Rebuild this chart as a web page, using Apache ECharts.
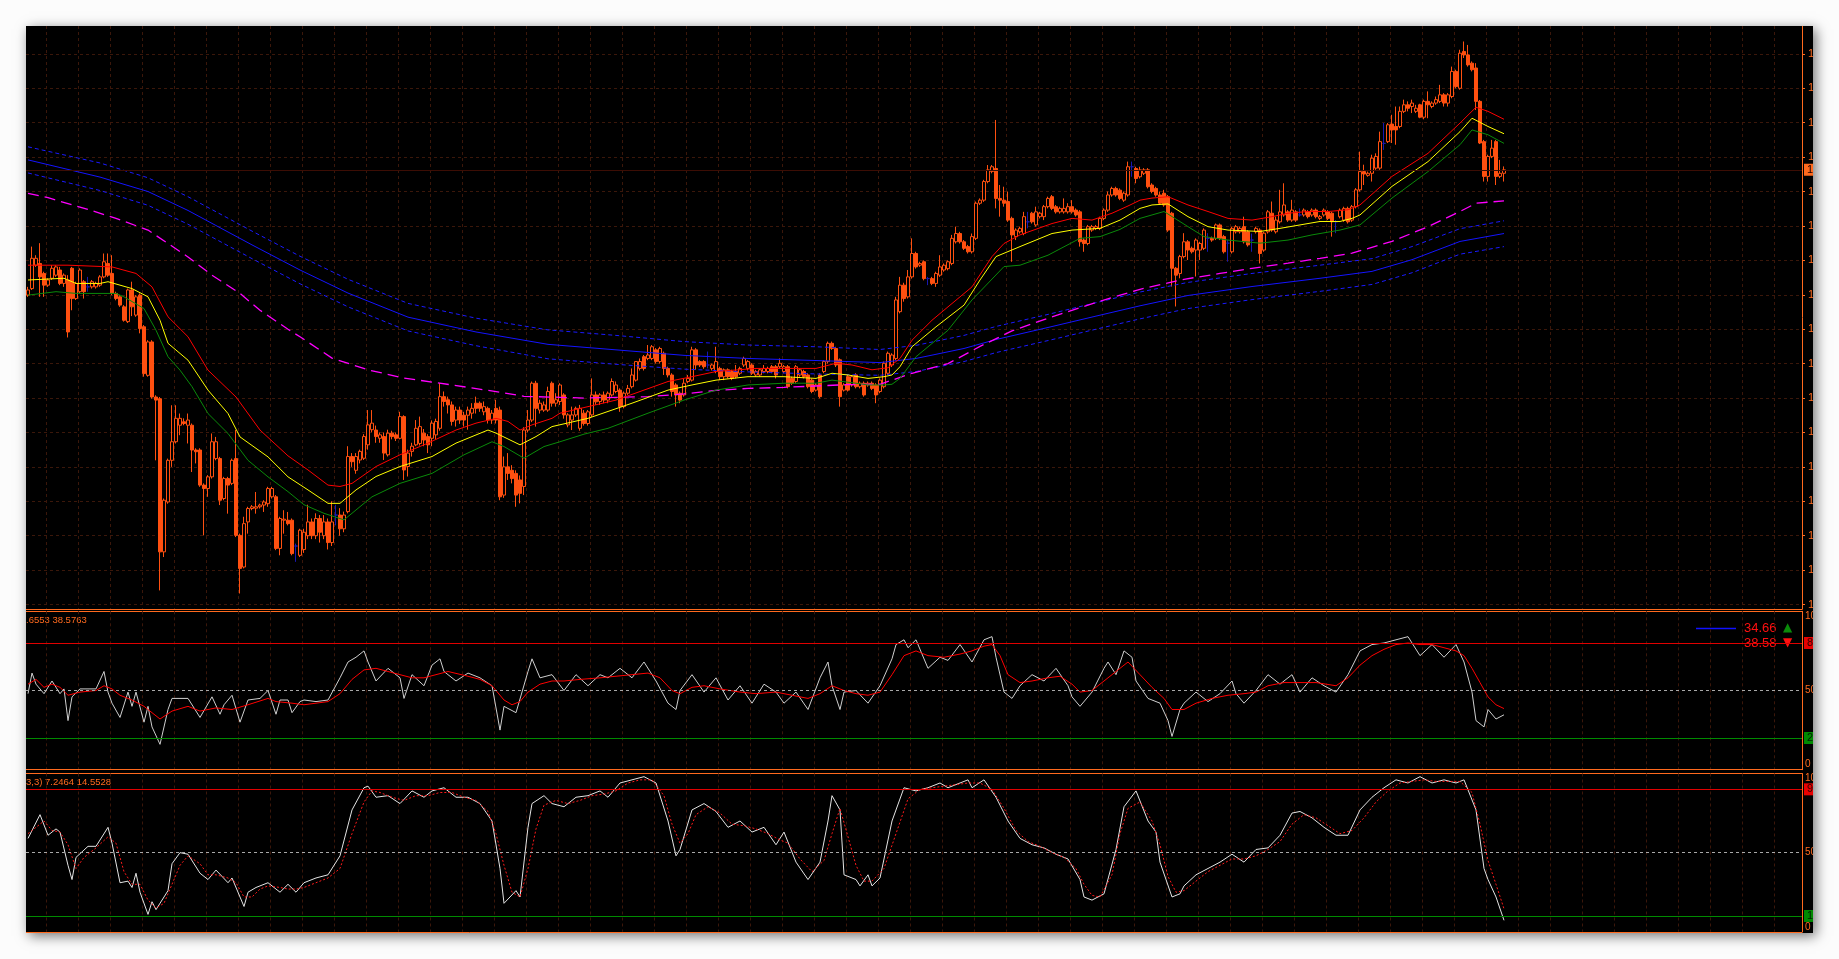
<!DOCTYPE html>
<html><head><meta charset="utf-8">
<script src="https://cdn.jsdelivr.net/npm/echarts@6/dist/echarts.min.js"></script>
<style>
html,body{margin:0;padding:0;background:#fcfcfc;width:1839px;height:959px;overflow:hidden}
#frame{position:absolute;left:26px;top:26px;width:1787px;height:907px;background:#000;box-shadow:3px 3px 12px rgba(0,0,0,0.55);overflow:hidden}
#chart{width:1787px;height:907px}
</style></head><body>
<div id="frame"><div id="chart"></div></div>
<script>
// ---------- DATA (prices in points: 13663 = 1.3663) ----------
const open = [13299,13318,13386,13391,13362,13328,13348,13357,13372,13333,
13343,13377,13289,13309,13338,13323,13323,13323,13328,13352,
13391,13362,13304,13294,13265,13222,13314,13241,13299,13207,
13066,13163,13003,12998,12553,12698,12819,12873,12921,12931,
12921,12921,12849,12849,12747,12737,12771,12824,12824,12708,
12766,12752,12824,12601,12509,12640,12679,12680,12684,12689,
12693,12713,12713,12563,12645,12645,12645,12570,12543,12560,
12600,12640,12600,12650,12600,12640,12580,12660,12660,12620,
12670,12830,12790,12820,12825,12864,12908,12907,12883,12888,
12835,12898,12893,12883,12946,12801,12845,12864,12868,12898,
12888,12883,12893,12912,13004,12995,12980,12936,12965,12950,
12950,12956,12985,12985,12960,12970,12936,12970,12965,12718,
12800,12790,12781,12762,12743,12907,12936,13043,12965,12965,
12965,13043,12985,12990,13009,12922,12936,12951,12912,12956,
12926,12951,13009,12990,13009,12994,13009,13019,13023,12975,
13014,13033,13052,13086,13120,13115,13115,13140,13106,13130,
13086,13067,13038,13014,13009,13048,13052,13140,13106,13106,
13096,13086,13077,13086,13062,13082,13077,13077,13072,13096,
13086,13096,13067,13067,13077,13077,13091,13091,13091,13077,
13091,13057,13048,13067,13077,13067,13052,13023,13067,13077,
13106,13159,13144,13111,13023,13062,13038,13067,13033,13043,
13038,13043,13038,13019,13033,13072,13096,13115,13251,13328,
13294,13352,13420,13386,13396,13347,13347,13333,13357,13372,
13376,13391,13454,13478,13454,13440,13425,13464,13566,13575,
13629,13658,13667,13580,13575,13571,13522,13469,13483,13478,
13512,13537,13503,13527,13527,13556,13585,13556,13541,13541,
13541,13556,13546,13541,13459,13449,13488,13493,13493,13522,
13546,13590,13609,13604,13575,13590,13672,13667,13643,13653,
13663,13619,13609,13590,13595,13585,13537,13377,13362,13411,
13454,13435,13430,13430,13435,13464,13464,13464,13503,13469,
13450,13425,13483,13483,13498,13483,13459,13483,13488,13430,
13483,13537,13483,13512,13532,13541,13517,13541,13532,13532,
13541,13532,13546,13522,13532,13541,13537,13512,13527,13517,
13551,13517,13556,13605,13658,13647,13653,13668,13668,13740,
13745,13796,13789,13789,13833,13852,13847,13833,13852,13816,
13862,13847,13857,13862,13881,13857,13876,13949,13900,14007,
13997,13973,13959,13862,13745,13644,13702,13745,13644,13653];
const close = [13314,13406,13406,13352,13328,13343,13377,13381,13333,13357,
13192,13289,13333,13372,13309,13323,13338,13333,13352,13396,
13357,13304,13289,13270,13226,13314,13265,13294,13202,13071,
13163,13003,12994,12553,12703,12819,12873,12941,12941,12926,
12936,12849,12844,12747,12737,12771,12873,12873,12703,12766,
12747,12819,12601,12505,12635,12679,12684,12684,12689,12698,
12737,12737,12563,12650,12648,12635,12548,12570,12616,12610,
12640,12600,12650,12610,12640,12580,12640,12660,12620,12660,
12830,12815,12830,12845,12888,12922,12927,12888,12893,12840,
12898,12888,12883,12946,12791,12840,12860,12912,12917,12878,
12864,12927,12932,13004,12990,12980,12932,12965,12936,12936,
12965,12970,12970,12970,12975,12936,12956,12936,12713,12800,
12781,12766,12718,12723,12907,12936,13043,12970,12985,12980,
13019,12985,12995,13038,12951,12951,12951,12970,12970,12926,
12960,13009,12989,13009,12994,13014,13048,13038,12975,13014,
13028,13067,13106,13106,13086,13125,13149,13106,13144,13086,
13067,13019,13009,12994,13043,13057,13140,13096,13096,13091,
13096,13096,13106,13062,13082,13062,13057,13062,13086,13115,
13106,13072,13077,13082,13086,13086,13077,13067,13101,13091,
13033,13043,13091,13082,13062,13033,13019,13038,13004,13106,
13159,13144,13096,13004,13038,13023,13062,13033,13043,13009,
13043,13028,13009,13052,13101,13130,13125,13285,13328,13289,
13352,13420,13381,13391,13347,13347,13333,13362,13381,13386,
13396,13464,13478,13454,13435,13425,13469,13566,13575,13629,
13663,13672,13580,13575,13566,13517,13474,13488,13493,13527,
13512,13512,13541,13537,13556,13580,13551,13541,13551,13551,
13556,13541,13532,13454,13449,13498,13498,13498,13522,13546,
13590,13609,13590,13580,13595,13672,13672,13638,13663,13663,
13614,13600,13590,13566,13561,13488,13377,13357,13411,13454,
13430,13425,13459,13449,13488,13464,13459,13503,13464,13425,
13450,13493,13498,13493,13454,13445,13459,13493,13420,13479,
13541,13488,13517,13541,13561,13517,13546,13517,13532,13546,
13527,13546,13527,13527,13546,13522,13512,13512,13546,13551,
13512,13556,13605,13658,13651,13653,13697,13702,13745,13740,
13794,13779,13779,13833,13852,13842,13857,13842,13816,13862,
13852,13857,13867,13881,13857,13881,13949,13905,14002,13997,
13968,13954,13862,13741,13644,13702,13726,13644,13653,13663];
const low = [13294,13314,13381,13294,13294,13323,13343,13352,13328,13323,
13176,13255,13285,13304,13289,13309,13318,13318,13323,13348,
13352,13299,13284,13265,13222,13218,13238,13236,13188,13062,
13062,12998,12819,12441,12538,12693,12800,12868,12892,12921,
12868,12785,12810,12742,12601,12713,12766,12819,12689,12703,
12664,12747,12596,12432,12505,12606,12674,12664,12679,12669,
12684,12708,12558,12543,12606,12630,12543,12524,12538,12550,
12590,12590,12590,12580,12590,12560,12570,12630,12600,12610,
12665,12800,12780,12810,12820,12850,12900,12870,12870,12820,
12830,12880,12875,12880,12762,12772,12830,12860,12862,12860,
12840,12860,12880,12905,12975,12955,12920,12917,12925,12917,
12908,12940,12955,12960,12950,12926,12925,12926,12703,12710,
12762,12752,12684,12694,12718,12900,12930,12917,12955,12960,
12960,12975,12975,12980,12940,12915,12907,12945,12905,12920,
12920,12945,12980,12980,12985,12985,13004,13014,12960,12970,
13009,13028,13048,13080,13080,13110,13110,13100,13100,13067,
13060,13004,12975,12985,13004,13043,13048,13082,13090,13085,
13086,13080,13072,13052,13052,13057,13052,13057,13067,13090,
13080,13067,13062,13062,13072,13072,13072,13057,13086,13072,
13028,13038,13043,13062,13057,13028,13014,13019,12999,13072,
13100,13140,13090,12975,13019,13019,13033,13028,13028,13004,
13033,13023,12985,13014,13028,13067,13090,13110,13246,13280,
13289,13347,13376,13381,13342,13328,13328,13323,13352,13367,
13371,13386,13449,13449,13430,13420,13420,13459,13561,13570,
13624,13653,13551,13527,13556,13512,13396,13459,13478,13473,
13493,13507,13498,13522,13517,13551,13546,13536,13536,13536,
13536,13536,13527,13440,13425,13444,13483,13488,13488,13517,
13541,13585,13585,13575,13570,13585,13643,13624,13638,13648,
13609,13595,13585,13561,13556,13483,13324,13266,13348,13406,
13401,13420,13353,13401,13430,13425,13454,13459,13459,13420,
13396,13420,13478,13478,13449,13440,13425,13478,13391,13425,
13478,13483,13478,13507,13527,13512,13512,13512,13527,13527,
13522,13527,13522,13517,13527,13517,13469,13479,13522,13512,
13507,13512,13551,13600,13619,13643,13629,13663,13663,13721,
13741,13741,13736,13784,13828,13833,13828,13828,13813,13810,
13813,13842,13852,13857,13847,13847,13871,13900,13896,13988,
13963,13949,13837,13738,13629,13629,13697,13619,13639,13629];
const high = [13323,13440,13415,13450,13367,13348,13386,13386,13381,13362,
13357,13381,13338,13377,13343,13352,13343,13338,13357,13420,
13420,13415,13309,13299,13270,13318,13338,13299,13304,13212,
13168,13168,13008,13003,12708,12824,12979,12979,12955,12941,
12955,12926,12854,12854,12752,12776,12897,12887,12829,12771,
12771,12824,12907,12606,12655,12684,12689,12727,12693,12703,
12742,12742,12718,12655,12674,12669,12650,12577,12620,12620,
12690,12650,12665,12660,12660,12650,12700,12690,12680,12670,
12860,12840,12840,12850,12895,12965,12965,12920,12900,12900,
12908,12905,12900,12960,12950,12850,12870,12936,12946,12910,
12895,12935,12940,13043,13019,13004,12990,12975,12975,12960,
12975,12985,13004,12990,12990,12975,12965,12995,12975,12830,
12840,12805,12790,12775,12915,12965,13048,13050,12995,12990,
13033,13048,13014,13043,13014,12956,12975,12975,12980,12965,
12965,13057,13019,13014,13019,13019,13057,13048,13028,13019,
13038,13086,13106,13115,13125,13154,13154,13145,13149,13135,
13091,13072,13043,13019,13057,13067,13149,13145,13110,13110,
13135,13100,13149,13091,13086,13086,13082,13096,13091,13120,
13110,13101,13082,13086,13096,13091,13096,13096,13115,13096,
13096,13062,13096,13086,13082,13072,13057,13043,13072,13110,
13164,13164,13149,13115,13043,13067,13067,13072,13048,13048,
13048,13048,13043,13057,13106,13135,13130,13294,13352,13335,
13372,13464,13425,13396,13400,13352,13352,13367,13415,13391,
13400,13474,13498,13483,13459,13445,13478,13571,13580,13634,
13677,13677,13808,13619,13614,13600,13527,13493,13498,13541,
13541,13541,13556,13541,13561,13585,13590,13561,13556,13580,
13566,13575,13551,13546,13464,13503,13503,13503,13527,13551,
13600,13614,13614,13609,13600,13687,13687,13672,13672,13668,
13668,13624,13614,13600,13605,13590,13541,13381,13416,13479,
13459,13440,13464,13454,13493,13479,13469,13507,13507,13474,
13459,13498,13503,13498,13527,13488,13478,13498,13493,13483,
13546,13571,13527,13605,13624,13546,13576,13546,13551,13551,
13546,13551,13551,13532,13551,13546,13541,13517,13551,13556,
13556,13561,13610,13716,13678,13658,13707,13711,13774,13799,
13799,13823,13847,13847,13867,13862,13867,13852,13855,13867,
13891,13862,13876,13910,13886,13886,13963,13954,14012,14036,
14026,13978,13973,13866,13750,13707,13750,13750,13692,13673];

// moving averages as [candle index, value]
const maHigh = [[0,13386],[10,13386],[21,13381],[27,13362],[31,13323],[35,13236],[40,13178],[45,13081],[52,13003],[58,12907],[65,12832],[70,12791],[75,12747],[78,12743],[81,12752],[87,12801],[93,12835],[100,12869],[107,12907],[112,12927],[117,12941],[120,12932],[123,12907],[126,12922],[131,12941],[133,12956],[140,12975],[147,12994],[160,13048],[166,13062],[172,13077],[182,13086],[190,13086],[197,13086],[202,13101],[206,13096],[211,13082],[215,13088],[218,13115],[221,13168],[226,13226],[230,13265],[236,13323],[241,13411],[244,13449],[248,13474],[256,13507],[261,13522],[266,13517],[271,13537],[275,13558],[278,13575],[281,13581],[285,13585],[290,13561],[295,13542],[300,13522],[306,13517],[311,13527],[315,13537],[320,13542],[325,13542],[330,13547],[333,13561],[341,13644],[350,13711],[358,13799],[362,13845],[365,13833],[369,13810]];
const maClose = [[0,13343],[9,13348],[12,13333],[18,13333],[20,13338],[23,13328],[26,13318],[30,13294],[33,13226],[35,13159],[40,13110],[45,13023],[50,12955],[53,12887],[60,12829],[65,12771],[70,12733],[75,12694],[78,12694],[82,12733],[87,12772],[93,12801],[101,12830],[107,12869],[115,12907],[117,12898],[123,12864],[127,12888],[131,12917],[140,12941],[151,12985],[160,13023],[166,13038],[172,13052],[180,13062],[189,13062],[197,13057],[201,13072],[205,13067],[210,13057],[214,13062],[216,13067],[218,13091],[221,13149],[227,13207],[234,13270],[238,13343],[242,13411],[248,13440],[256,13478],[261,13488],[268,13493],[273,13517],[278,13551],[281,13561],[285,13564],[290,13527],[295,13498],[300,13488],[308,13484],[313,13493],[318,13503],[323,13513],[328,13513],[331,13522],[333,13532],[341,13615],[350,13687],[358,13774],[361,13813],[365,13789],[369,13768]];
const maLow = [[0,13299],[7,13309],[12,13304],[22,13304],[24,13294],[29,13260],[32,13197],[35,13120],[38,13081],[41,13033],[45,12955],[50,12897],[55,12819],[60,12771],[65,12728],[69,12690],[74,12665],[79,12646],[86,12713],[93,12752],[101,12781],[109,12835],[116,12873],[119,12859],[124,12825],[129,12859],[133,12873],[139,12895],[145,12912],[155,12956],[164,12994],[172,13023],[180,13038],[189,13043],[197,13043],[201,13052],[207,13043],[210,13038],[214,13038],[216,13040],[218,13057],[222,13120],[230,13197],[236,13285],[244,13382],[248,13386],[255,13415],[263,13464],[268,13469],[273,13490],[278,13522],[281,13532],[284,13542],[290,13498],[294,13469],[300,13459],[308,13450],[315,13459],[321,13474],[328,13488],[333,13503],[341,13581],[350,13658],[358,13736],[361,13779],[365,13765],[369,13740]];
const maSlow = [[0,13595],[5,13582],[15,13548],[22,13522],[30,13488],[40,13410],[46,13357],[53,13304],[58,13255],[65,13200],[68,13178],[76,13116],[85,13082],[94,13058],[106,13038],[118,13017],[124,13005],[133,13002],[139,13000],[155,13004],[164,13012],[172,13022],[180,13028],[189,13031],[197,13035],[205,13039],[213,13040],[221,13072],[230,13100],[238,13150],[246,13195],[255,13232],[265,13270],[271,13292],[278,13316],[289,13345],[298,13362],[306,13377],[315,13392],[323,13406],[331,13421],[341,13455],[350,13498],[358,13542],[362,13566],[369,13573]];
const bandMid = [[0,13692],[18,13642],[30,13600],[40,13545],[48,13495],[56,13445],[68,13372],[80,13305],[95,13235],[112,13192],[130,13156],[147,13140],[164,13124],[180,13115],[197,13109],[213,13103],[222,13115],[234,13144],[242,13170],[255,13205],[267,13238],[278,13268],[290,13298],[306,13324],[323,13348],[336,13368],[346,13402],[358,13455],[369,13478]];
const bandUp = [[0,13730],[18,13683],[30,13640],[40,13585],[48,13535],[56,13485],[68,13412],[80,13345],[95,13275],[112,13232],[130,13198],[147,13182],[164,13164],[180,13154],[197,13149],[213,13141],[222,13153],[234,13182],[242,13208],[255,13243],[267,13277],[278,13308],[290,13336],[306,13362],[323,13386],[336,13405],[346,13440],[358,13492],[369,13515]];
const bandLow = [[0,13654],[18,13603],[30,13560],[40,13505],[48,13455],[56,13405],[68,13332],[80,13265],[95,13195],[112,13152],[130,13114],[147,13098],[164,13084],[180,13076],[197,13070],[213,13066],[222,13077],[234,13106],[242,13132],[255,13167],[267,13200],[278,13230],[290,13260],[306,13286],[323,13310],[336,13330],[346,13364],[358,13418],[369,13440]];

// RSI panel
const rsiMain = [[0,48],[1,61],[2,54],[4,48],[6,56],[8,48],[9,51],[10,31],[11,46],[13,51],[15,51],[17,51],[19,62],[20,49],[21,42],[23,33],[25,49],[26,40],[27,49],[29,30],[30,40],[31,27],[33,16],[35,38],[36,45],[40,45],[43,33],[46,46],[48,35],[49,41],[51,47],[53,30],[55,44],[58,45],[60,50],[62,35],[63,44],[65,44],[66,36],[68,43],[69,44],[72,43],[75,44],[78,58],[80,68],[82,71],[84,75],[85,68],[87,56],[90,64],[93,58],[94,45],[96,60],[99,53],[101,66],[103,70],[104,62],[107,56],[110,61],[113,58],[116,53],[118,25],[119,40],[122,36],[125,62],[126,70],[128,58],[131,60],[134,50],[137,60],[140,53],[143,60],[145,58],[148,64],[151,58],[154,68],[157,56],[160,42],[162,38],[163,50],[166,60],[169,49],[172,58],[175,44],[178,53],[181,42],[184,54],[187,49],[189,42],[192,49],[195,38],[198,58],[200,68],[201,53],[203,38],[204,49],[207,50],[210,42],[213,53],[216,70],[217,79],[219,82],[220,77],[222,82],[225,64],[228,71],[230,69],[233,79],[236,68],[239,82],[241,84],[242,71],[244,49],[246,45],[248,53],[251,60],[254,56],[257,64],[260,53],[261,46],[263,40],[266,49],[269,64],[270,68],[272,60],[274,75],[276,71],[277,56],[280,45],[283,42],[285,31],[286,21],[288,38],[289,42],[292,49],[295,43],[298,48],[301,56],[302,48],[304,42],[307,50],[310,60],[313,54],[316,60],[318,49],[321,58],[324,53],[327,49],[330,60],[333,75],[336,79],[339,80],[342,82],[345,84],[348,72],[351,79],[354,71],[357,79],[359,68],[361,49],[362,31],[364,27],[365,38],[367,32],[369,34.66]];
const rsiSignal = [[0,54],[2,57],[4,52],[6,54],[8,52],[10,47],[13,49],[17,50],[19,53],[21,51],[23,47],[26,44],[29,40],[31,36],[33,32],[36,37],[40,40],[43,37],[47,39],[51,38],[55,41],[60,45],[62,43],[66,42],[69,41],[72,42],[75,43],[78,48],[81,57],[84,63],[87,64],[90,62],[93,60],[96,58],[99,58],[102,60],[105,62],[110,59],[113,57],[116,53],[119,44],[121,41],[123,43],[125,49],[128,54],[131,56],[134,56],[138,57],[143,58],[147,59],[151,60],[155,61],[158,58],[161,50],[163,48],[166,52],[169,53],[173,51],[178,49],[182,48],[187,49],[191,47],[195,45],[198,48],[201,53],[204,50],[207,48],[210,47],[213,49],[216,60],[219,72],[222,75],[225,72],[229,71],[233,73],[236,75],[239,78],[241,79],[243,72],[245,60],[248,55],[251,56],[255,58],[258,59],[261,54],[263,49],[266,50],[269,56],[272,62],[275,68],[278,60],[281,52],[284,45],[286,38],[289,38],[292,42],[296,45],[300,47],[304,48],[307,49],[310,53],[314,55],[318,55],[322,55],[327,53],[330,58],[333,66],[336,72],[339,76],[342,79],[345,80],[348,79],[351,79],[354,77],[357,75],[359,72],[361,64],[363,55],[365,46],[367,41],[369,38.58]];
const rsiLevels = [80, 50, 20];
const rsiTitle = '.6553 38.5763';
const rsiLegend = ['34.66', '38.58'];

// Stochastic panel
const stochMain = [[0,59],[1,64],[3,74],[5,61],[7,65],[8,63],[10,42],[11,33],[12,47],[15,54],[17,54],[20,66],[21,56],[23,31],[25,32],[26,28],[27,37],[28,25],[30,11],[31,19],[32,14],[35,26],[36,43],[38,50],[40,49],[43,37],[45,33],[47,39],[50,31],[51,34],[54,16],[55,25],[57,28],[60,31],[63,25],[65,30],[67,25],[69,31],[72,34],[75,36],[78,48],[81,77],[84,91],[85,92],[87,85],[90,86],[93,81],[96,89],[99,85],[101,89],[104,91],[107,85],[110,85],[113,81],[116,70],[118,40],[119,18],[122,26],[123,22],[125,66],[126,81],[129,86],[131,81],[134,79],[137,85],[140,86],[143,89],[145,85],[148,94],[151,96],[154,98],[157,94],[160,70],[162,48],[163,52],[166,77],[169,81],[172,76],[175,66],[178,70],[181,63],[184,66],[187,55],[189,63],[192,44],[195,33],[198,44],[200,70],[201,86],[203,77],[204,36],[207,33],[208,29],[210,36],[211,29],[213,34],[216,70],[219,91],[222,89],[225,91],[228,94],[230,91],[233,94],[235,96],[236,91],[239,96],[242,85],[245,70],[248,59],[251,55],[254,53],[257,49],[260,46],[263,33],[264,22],[266,20],[269,24],[272,52],[274,79],[277,89],[280,70],[282,63],[283,44],[286,22],[288,24],[289,29],[292,36],[295,40],[298,44],[301,49],[304,44],[307,52],[310,53],[313,61],[316,75],[318,76],[321,72],[324,66],[327,61],[330,61],[333,77],[336,85],[339,91],[342,96],[345,94],[348,98],[351,94],[354,96],[357,94],[359,96],[362,77],[364,40],[365,33],[367,22],[369,7.25]];
const stochSignal = [[0,62],[2,66],[4,70],[6,64],[8,63],[10,55],[12,40],[14,47],[17,53],[20,60],[22,56],[24,38],[26,30],[28,30],[30,20],[32,15],[34,18],[36,30],[38,42],[40,48],[43,43],[45,36],[47,36],[50,34],[52,31],[54,22],[56,22],[58,27],[60,29],[63,28],[65,27],[67,27],[69,28],[72,31],[75,34],[78,40],[81,62],[84,82],[86,89],[88,88],[91,85],[94,83],[97,86],[100,86],[103,88],[106,88],[109,85],[112,83],[115,76],[117,62],[119,42],[121,25],[123,22],[125,40],[127,65],[129,80],[132,83],[135,81],[138,83],[141,86],[144,87],[147,89],[150,94],[153,96],[156,96],[159,86],[161,68],[163,56],[165,62],[167,74],[170,79],[173,75],[176,68],[179,67],[182,65],[185,62],[188,58],[190,56],[193,46],[196,38],[199,45],[201,62],[203,78],[205,60],[207,42],[209,32],[211,32],[214,40],[217,62],[220,84],[223,90],[226,91],[229,92],[232,93],[235,94],[238,94],[241,90],[244,78],[247,64],[250,57],[253,54],[256,50],[259,47],[262,40],[264,30],[266,23],[268,22],[271,36],[273,62],[275,78],[278,82],[281,70],[283,55],[285,35],[287,25],[289,26],[292,32],[295,38],[298,42],[301,46],[304,46],[307,48],[310,52],[313,57],[316,68],[319,74],[322,72],[325,67],[328,62],[331,64],[334,72],[337,82],[340,89],[343,94],[346,95],[349,96],[352,95],[355,95],[358,95],[361,88],[363,68],[365,45],[367,30],[369,14.55]];
const stochLevels = [90, 50, 10];
const stochTitle = '3,3) 7.2464 14.5528';

const slotCount = 444;           // bars that fit the window (right part empty)
const priceMin = 12387, priceMax = 14081;

// ---------- CHART ----------
const categories = Array.from({length: slotCount}, (_, i) => String(i));
const candles = open.map((o, i) => [o, close[i], low[i], high[i]]);
const lastClose = close[close.length - 1];

const ORANGE = '#ff6a1e', CANDLE = '#ff5010', GRIDC = '#3b170a', FONT = 'Liberation Sans';
const W = 1776;

function xa(gi) {
  return {type: 'category', gridIndex: gi, data: categories, boundaryGap: true,
    axisLine: {show: true, onZero: false, lineStyle: {color: ORANGE, width: 1}},
    axisTick: {show: false}, axisLabel: {show: false},
    splitLine: {show: true, interval: (idx) => idx % 8 === 5, lineStyle: {color: GRIDC, type: [3, 3], width: 1}}};
}
function ya(gi, extra) {
  return Object.assign({type: 'value', gridIndex: gi, position: 'right',
    axisLine: {show: true, lineStyle: {color: ORANGE}},
    axisTick: {show: false},
    axisLabel: {color: ORANGE, fontSize: 10, fontFamily: FONT, margin: 3},
    splitLine: {show: false}}, extra);
}
function line(data, xi, color, type, width, z) {
  return {type: 'line', data, xAxisIndex: xi, yAxisIndex: xi, showSymbol: false, symbol: 'none',
    silent: true, z: z || 3, lineStyle: {color, type: type || 'solid', width: width || 1}};
}
function levelMarks(levels) {
  const styles = [
    {lineStyle: {color: '#e00000', type: 'solid', width: 1}, label: {show: true, position: 'end', distance: 2, color: '#300000', backgroundColor: '#e80000', padding: [1, 3, 0, 3], fontSize: 11, fontFamily: FONT, formatter: String(levels[0])}},
    {lineStyle: {color: '#a8a8a8', type: [3, 3], width: 1}, label: {show: false}},
    {lineStyle: {color: '#008a00', type: 'solid', width: 1}, label: {show: true, position: 'end', distance: 2, color: '#002000', backgroundColor: '#008a00', padding: [1, 3, 0, 3], fontSize: 11, fontFamily: FONT, formatter: String(levels[2])}}
  ];
  return {silent: true, symbol: 'none', animation: false,
    data: levels.map((v, k) => Object.assign({yAxis: v}, styles[k]))};
}
function gridBox(top, height) {
  return {left: 0, top, width: W, height, containLabel: false, outerBoundsMode: 'none'};
}
const indicatorLabel = {color: ORANGE, fontSize: 10, fontFamily: FONT, margin: 3,
  verticalAlignMaxLabel: 'top', verticalAlignMinLabel: 'bottom'};

const chart = echarts.init(document.getElementById('chart'), null, {renderer: 'canvas'});
chart.setOption({
  backgroundColor: '#000',
  animation: false,
  grid: [gridBox(0, 583), gridBox(585.3, 158.4), gridBox(747.5, 158.3)],
  xAxis: [xa(0), xa(1), xa(2)],
  yAxis: [
    ya(0, {min: priceMin, max: priceMax, splitNumber: 17,
      axisTick: {show: true, length: 3, lineStyle: {color: ORANGE}},
      axisLabel: {color: ORANGE, fontSize: 11, fontFamily: FONT, margin: 6, showMinLabel: false, showMaxLabel: false,
        formatter: v => (v / 10000).toFixed(4)},
      splitLine: {show: true, showMinLine: false, showMaxLine: false, lineStyle: {color: GRIDC, type: [3, 3], width: 1}}}),
    ya(1, {min: 0, max: 100, interval: 50, axisLabel: indicatorLabel}),
    ya(2, {min: 0, max: 100, interval: 50, axisLabel: indicatorLabel})
  ],
  series: [
    {type: 'candlestick', xAxisIndex: 0, yAxisIndex: 0, data: candles, barWidth: 3, z: 2, silent: true,
      itemStyle: {color: '#000', color0: CANDLE, borderColor: CANDLE, borderColor0: CANDLE, borderColorDoji: '#1818b0', borderWidth: 1},
      markLine: {silent: true, symbol: 'none', animation: false,
        data: [{yAxis: lastClose}],
        lineStyle: {color: '#3c0d04', type: 'solid', width: 1},
        label: {show: true, position: 'end', distance: 2, color: '#200000', backgroundColor: ORANGE,
          padding: [1, 3, 0, 3], fontSize: 11, fontFamily: FONT, formatter: p => (p.value / 10000).toFixed(4)}}},
    line(bandUp, 0, '#1a1aff', [4, 3], 1),
    line(bandMid, 0, '#1414ff', 'solid', 1),
    line(bandLow, 0, '#1a1aff', [4, 3], 1),
    line(maSlow, 0, '#ff00ff', [11, 6], 1.3),
    line(maLow, 0, '#0a8a0a', 'solid', 1),
    line(maClose, 0, '#ffff00', 'solid', 1),
    line(maHigh, 0, '#ff0000', 'solid', 1),
    Object.assign(line(rsiMain, 1, '#cfcfcf', 'solid', 1), {markLine: levelMarks(rsiLevels)}),
    line(rsiSignal, 1, '#ff0000', 'solid', 1),
    Object.assign(line(stochMain, 2, '#e4e4e4', 'solid', 1), {markLine: levelMarks(stochLevels)}),
    line(stochSignal, 2, '#ff1a1a', [2, 2], 1)
  ],
  graphic: [
    {type: 'line', silent: true, shape: {x1: 0, y1: 585.5, x2: W, y2: 585.5}, style: {stroke: ORANGE, lineWidth: 1}},
    {type: 'line', silent: true, shape: {x1: 0, y1: 747.5, x2: W, y2: 747.5}, style: {stroke: ORANGE, lineWidth: 1}},
    {type: 'text', silent: true, left: 0, top: 589, style: {text: rsiTitle, fill: ORANGE, font: '9.5px "Liberation Sans"'}},
    {type: 'text', silent: true, left: 0, top: 751, style: {text: stochTitle, fill: ORANGE, font: '9.5px "Liberation Sans"'}},
    {type: 'line', silent: true, shape: {x1: 1670, y1: 602.5, x2: 1710, y2: 602.5}, style: {stroke: '#1010ff', lineWidth: 1.5}},
    {type: 'text', silent: true, x: 1718, y: 602, style: {text: rsiLegend[0], fill: '#ff1010', font: '13px "Liberation Sans"', textVerticalAlign: 'middle'}},
    {type: 'text', silent: true, x: 1757, y: 602, style: {text: '▲', fill: '#0a8a0a', font: '12px "DejaVu Sans"', textVerticalAlign: 'middle'}},
    {type: 'text', silent: true, x: 1718, y: 617, style: {text: rsiLegend[1], fill: '#ff1010', font: '13px "Liberation Sans"', textVerticalAlign: 'middle'}},
    {type: 'text', silent: true, x: 1757, y: 617, style: {text: '▼', fill: '#ff1010', font: '12px "DejaVu Sans"', textVerticalAlign: 'middle'}}
  ]
});
</script>
</body></html>
